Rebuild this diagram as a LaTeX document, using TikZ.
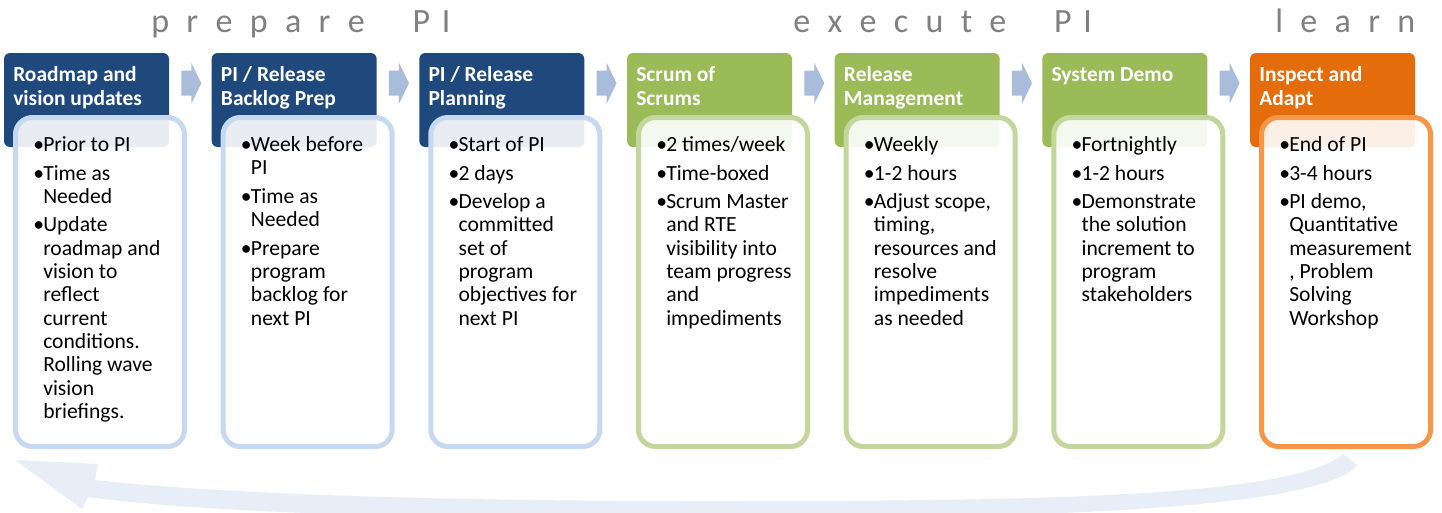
\documentclass[tikz,border=0pt]{standalone}
\usepackage{fontspec}
\setmainfont{Carlito}
\usetikzlibrary{calc}
\definecolor{hblue}{HTML}{1F497D}
\definecolor{hgreen}{HTML}{9BBB59}
\definecolor{horange}{HTML}{E46C0A}
\definecolor{bblue}{HTML}{C6D9F1}
\definecolor{bgreen}{HTML}{C3D69B}
\definecolor{borange}{HTML}{F79646}
\definecolor{chev}{HTML}{A9BCDB}
\definecolor{loopc}{HTML}{E7EEF8}
\definecolor{ttl}{HTML}{808080}
\newcommand\bu{\makebox[7.5pt][l]{\textbullet}}
\newcommand\ct{\hspace*{7.5pt}}
\newcommand\isp{\\[3.9pt]}
\newcommand\lsp{\kern13pt}
\newcommand\wsp{\ \kern30pt}
\newcommand\psp{\kern8.8pt}
\tikzset{
  hdr/.style={draw=none, minimum width=123.75pt, minimum height=70.5pt, rounded corners=4.5pt, inner sep=0pt},
  bodybox/.style={line width=3.75pt, fill=white, fill opacity=0.9, minimum width=126.75pt, minimum height=246.75pt, rounded corners=12.75pt, inner sep=0pt},
  htxt/.style={inner sep=0pt, text=white, font=\fontsize{16.1pt}{18pt}\selectfont\bfseries},
  btxt/.style={inner sep=0pt, text=black, font=\fontsize{16.2pt}{17.5pt}\selectfont},
  ttlstyle/.style={inner sep=0pt, text=ttl, font=\fontsize{25.5pt}{30pt}\selectfont},
  chevron/.style={fill=chev, draw=none}
}
\newcommand\stage[6]{%
  \node[hdr, fill=#3] (h#1) at (#2+82.5,100) {};
  \node[bodybox, draw=#4] (b#1) at (#2+96,282) {};
  \node[htxt, anchor=base west] (ht#1) at (#2+9,81) {\parbox[t]{150pt}{#5}};
  \node[btxt, anchor=base west] (bt#1) at (#2+29,151.5) {\parbox[t]{130pt}{#6}};
}
\newcommand\chevr[1]{%
  \fill[chevron] ($(h#1.north east)+(12,18)$) -- ++(10,0) -- ++(0,-8) -- ++(10,20.5) -- ++(-10,20.5) -- ++(0,-8) -- ++(-10,0) -- cycle;
}
\begin{document}
\begin{tikzpicture}[x=0.75pt,y=-0.75pt]
\useasboundingbox (0,0) rectangle (1442,512);
\clip (0,0) rectangle (1442,512);
\fill[white] (0,0) rectangle (1442,512);
% return loop arrow
\fill[loopc] (1343,454) .. controls (1290,500) and (1000,501) .. (700,501)
  .. controls (400,501) and (200,492) .. (95,480)
  -- (98,464) -- (15,460) -- (82,509) -- (88,497)
  .. controls (200,512) and (400,519) .. (700,519)
  .. controls (1000,519) and (1320,512) .. (1357,465) -- cycle;
% titles
\node[ttlstyle, anchor=base west] (t1) at (151,32) {p\lsp r\lsp e\lsp p\lsp a\lsp r\lsp e\wsp P\psp I};
\node[ttlstyle, anchor=base west] (t2) at (793,32) {e\lsp x\lsp e\lsp c\lsp u\lsp t\lsp e\wsp P\psp I};
\node[ttlstyle, anchor=base west] (t3) at (1275,32) {l\lsp e\lsp a\lsp r\lsp n};
% stages
\stage{1}{4}{hblue}{bblue}{Roadmap and\\vision updates}{\bu Prior to PI\isp\bu Time as\\\ct Needed\isp\bu Update\\\ct roadmap and\\\ct vision to\\\ct reflect\\\ct current\\\ct conditions.\\\ct Rolling wave\\\ct vision\\\ct briefings.}
\stage{2}{211.7}{hblue}{bblue}{PI / Release\\Backlog Prep}{\bu Week before\\\ct PI\isp\bu Time as\\\ct Needed\isp\bu Prepare\\\ct program\\\ct backlog for\\\ct next PI}
\stage{3}{419.3}{hblue}{bblue}{PI / Release\\Planning}{\bu Start of PI\isp\bu 2 days\isp\bu Develop a\\\ct committed\\\ct set of\\\ct program\\\ct objectives for\\\ct next PI}
\stage{4}{627}{hgreen}{bgreen}{Scrum of\\Scrums}{\bu 2 times/week\isp\bu Time-boxed\isp\bu Scrum Master\\\ct and RTE\\\ct visibility into\\\ct team progress\\\ct and\\\ct impediments}
\stage{5}{834.7}{hgreen}{bgreen}{Release\\Management}{\bu Weekly\isp\bu 1-2 hours\isp\bu Adjust scope,\\\ct timing,\\\ct resources and\\\ct resolve\\\ct impediments\\\ct as needed}
\stage{6}{1042.3}{hgreen}{bgreen}{System Demo}{\bu Fortnightly\isp\bu 1-2 hours\isp\bu Demonstrate\\\ct the solution\\\ct increment to\\\ct program\\\ct stakeholders}
\stage{7}{1250}{horange}{borange}{Inspect and\\Adapt}{\bu End of PI\isp\bu 3-4 hours\isp\bu PI demo,\\\ct Quantitative\\\ct measurement\\\ct , Problem\\\ct Solving\\\ct Workshop}
% chevrons between stages
\chevr{1}\chevr{2}\chevr{3}\chevr{4}\chevr{5}\chevr{6}
\end{tikzpicture}
\end{document}
